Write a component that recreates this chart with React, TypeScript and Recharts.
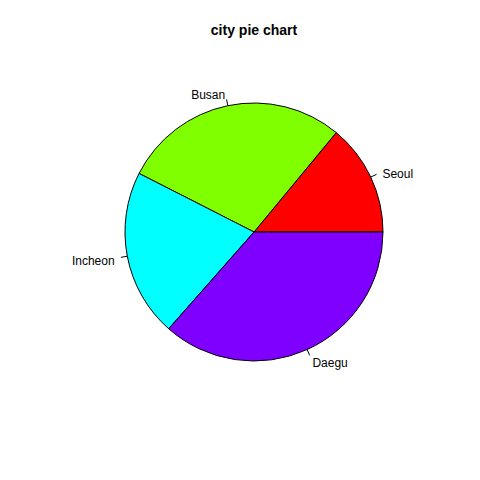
import React from 'react';
import { PieChart, Pie, Cell } from 'recharts';

const cities = ['Seoul', 'Busan', 'Incheon', 'Daegu'];
const shares = [14, 28.5, 21, 36.5];
const colors = ['#FF0000', '#80FF00', '#00FFFF', '#8000FF'];

const pieData = cities.map((name, i) => ({ name, value: shares[i] }));

const RADIAN = Math.PI / 180;

// R-style label: tick from r to 1.05r, text at 1.1r
const renderLabel = (props: any) => {
  const { cx, cy, midAngle, outerRadius, name } = props;
  const c = Math.cos(-midAngle * RADIAN);
  const s = Math.sin(-midAngle * RADIAN);
  const x1 = cx + outerRadius * c;
  const y1 = cy + outerRadius * s;
  const x2 = cx + outerRadius * 1.05 * c;
  const y2 = cy + outerRadius * 1.05 * s;
  const tx = cx + outerRadius * 1.1 * c;
  const ty = cy + outerRadius * 1.1 * s + 2;
  return (
    <g>
      <line x1={x1} y1={y1} x2={x2} y2={y2} stroke="#000" strokeWidth={1} />
      <text
        x={tx}
        y={ty}
        fill="#000"
        fontSize={12}
        fontFamily="Liberation Sans, Arial, sans-serif"
        textAnchor={c < 0 ? 'end' : 'start'}
        dominantBaseline="central"
      >
        {name}
      </text>
    </g>
  );
};

export default function App() {
  return (
    <div style={{ position: 'absolute', left: 0, top: 0, width: 480, height: 480, background: '#fff' }}>
      <div
        style={{
          position: 'absolute',
          left: 0,
          top: 22,
          width: 508,
          textAlign: 'center',
          fontFamily: 'Liberation Sans, Arial, sans-serif',
          fontWeight: 'bold',
          fontSize: 14,
          color: '#000',
        }}
      >
        city pie chart
      </div>
      <PieChart width={480} height={480} margin={{ top: 0, right: 0, bottom: 0, left: 0 }}>
        <Pie
          data={pieData}
          dataKey="value"
          nameKey="name"
          cx={254}
          cy={232}
          outerRadius={129}
          startAngle={0}
          endAngle={360}
          stroke="#000"
          strokeWidth={1}
          label={renderLabel}
          labelLine={false}
          isAnimationActive={false}
        >
          {pieData.map((d, i) => (
            <Cell key={d.name} fill={colors[i]} />
          ))}
        </Pie>
      </PieChart>
    </div>
  );
}
